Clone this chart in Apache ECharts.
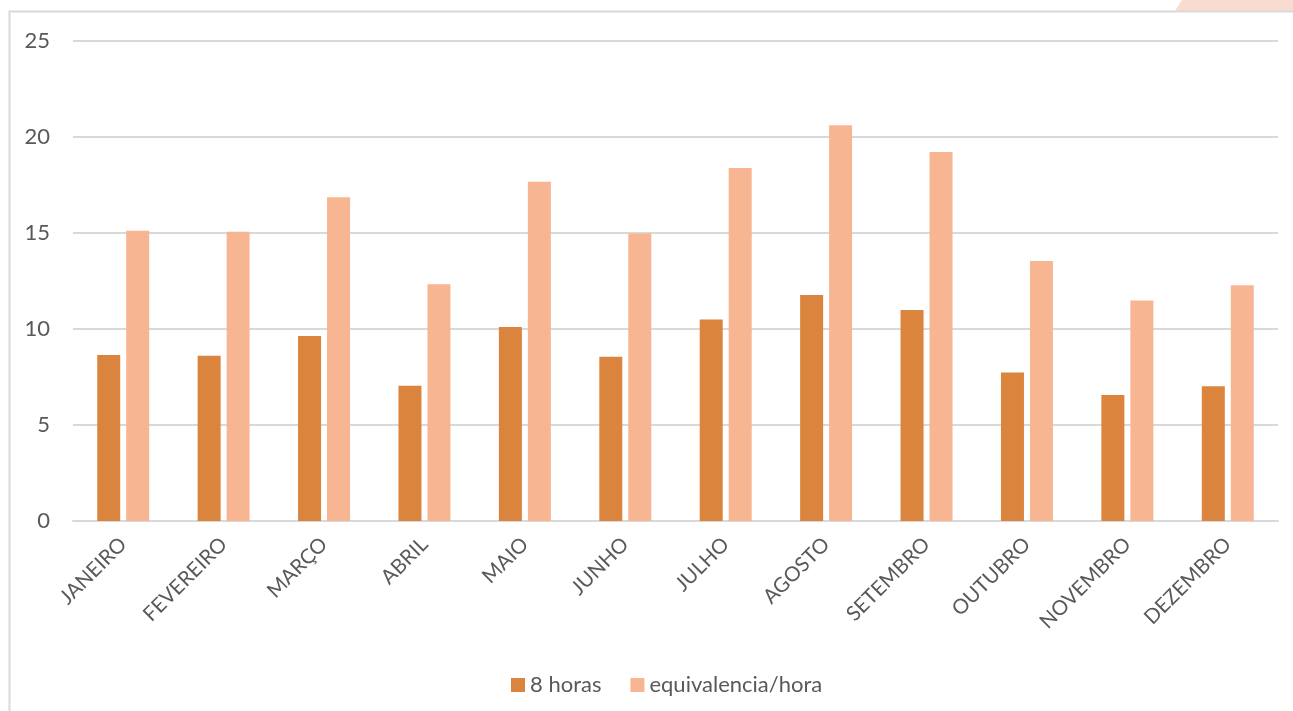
<!DOCTYPE html>
<html>
<head>
<meta charset="utf-8">
<script src="https://cdn.jsdelivr.net/npm/echarts@6/dist/echarts.min.js"></script>
<style>
html,body{margin:0;padding:0;background:#fff;}
#chart{width:1293px;height:711px;}
</style>
</head>
<body>
<div id="chart"></div>
<script>
const categories = ['JANEIRO','FEVEREIRO','MARÇO','ABRIL','MAIO','JUNHO','JULHO','AGOSTO','SETEMBRO','OUTUBRO','NOVEMBRO','DEZEMBRO'];
const horas8 = [8.65, 8.61, 9.64, 7.05, 10.10, 8.56, 10.50, 11.77, 10.99, 7.74, 6.56, 7.02];
const equivalenciaHora = [15.12, 15.07, 16.86, 12.33, 17.67, 14.98, 18.39, 20.61, 19.22, 13.54, 11.49, 12.28];
const seriesNames = ['8 horas', 'equivalencia/hora'];
const yTicks = {min: 0, max: 25, interval: 5};

const FONT = 'Lato';
const chart = echarts.init(document.getElementById('chart'));
chart.setOption({
  animation: false,
  backgroundColor: '#ffffff',
  textStyle: {fontFamily: FONT},
  graphic: [
    {type: 'polygon', shape: {points: [[1175, 11], [1182, 0], [1293, 0], [1293, 11]]}, style: {fill: '#FADBD0'}, z: 0},
    {type: 'rect', shape: {x: 9.5, y: 11.5, width: 1400, height: 800}, style: {fill: 'none', stroke: '#D9D9D9', lineWidth: 2}, z: 0}
  ],
  grid: {left: 73, right: 15, top: 41, bottom: 190, containLabel: false},
  legend: {
    data: seriesNames,
    left: 506,
    top: 669,
    itemWidth: 14,
    itemHeight: 14,
    itemGap: 29,
    icon: 'rect',
    textStyle: {color: '#595959', fontSize: 22, fontFamily: FONT}
  },
  xAxis: {
    type: 'category',
    data: categories,
    axisTick: {show: false},
    axisLine: {lineStyle: {color: '#D9D9D9', width: 2}},
    axisLabel: {rotate: 45, margin: 20, color: '#595959', fontSize: 20.5, fontFamily: FONT, interval: 0}
  },
  yAxis: {
    type: 'value',
    min: yTicks.min,
    max: yTicks.max,
    interval: yTicks.interval,
    axisLine: {show: false},
    axisTick: {show: false},
    splitLine: {lineStyle: {color: '#D9D9D9', width: 2}},
    axisLabel: {margin: 23, color: '#595959', fontSize: 22, fontFamily: FONT}
  },
  series: [
    {name: seriesNames[0], type: 'bar', data: horas8, barWidth: 23, barGap: '26%',
     itemStyle: {color: '#DB843E'}},
    {name: seriesNames[1], type: 'bar', data: equivalenciaHora, barWidth: 23,
     itemStyle: {color: '#F8B591'}}
  ]
});
</script>
</body>
</html>
